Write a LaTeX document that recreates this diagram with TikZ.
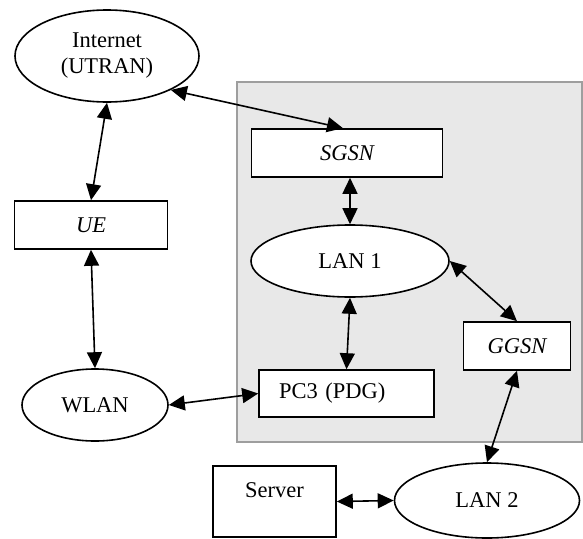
\documentclass[tikz,border=0pt]{standalone}
\usepackage{fontspec}
\setmainfont{Liberation Serif}
\usetikzlibrary{shapes.geometric,arrows.meta}
\tikzset{
  base/.style={draw, line width=1.6pt, fill=white, inner sep=0pt, font=\fontsize{22.5}{26}\selectfont},
  boxnode/.style={base, rectangle},
  ellnode/.style={base, ellipse},
  link/.style={line width=1.6pt, {Triangle[length=16pt,width=15pt]}-{Triangle[length=16pt,width=15pt]}},
  zone/.style={fill=black!9, draw=black!38, line width=1.4pt}
}
\begin{document}
\begin{tikzpicture}[x=1pt,y=-1pt]
\useasboundingbox (0,0) rectangle (583,538);
% shaded core network area
\draw[zone] (237,82) rectangle (582,442);

% nodes
\node[ellnode, minimum width=184, minimum height=92, align=center] (inet) at (107,56) {Internet\\(UTRAN)};
\node[boxnode, minimum width=153, minimum height=48] (ue) at (91,225) {\itshape UE};
\node[ellnode, minimum width=146, minimum height=72] (wlan) at (95,405) {WLAN};
\node[boxnode, minimum width=191, minimum height=48] (sgsn) at (347,153) {\itshape SGSN};
\node[ellnode, minimum width=198, minimum height=72] (lan1) at (350,261) {LAN 1};
\node[boxnode, minimum width=107, minimum height=48] (ggsn) at (517,346) {\itshape GGSN};
\node[boxnode, minimum height=47, text width=135pt, inner xsep=20pt, align=left] (pc3) at (346.5,393.5) {PC3 (PDG)};
\node[boxnode, minimum width=123, minimum height=71, align=center] (server) at (274.5,501.5) {Server\\[-4pt]\mbox{}};
\node[ellnode, minimum width=185, minimum height=75] (lan2) at (487,500.5) {LAN 2};

% connections
\draw[link] (inet.-28) -- ([xshift=-4pt]sgsn.north);
\draw[link] (inet.south) -- (ue.north);
\draw[link] (ue.south) -- (wlan.north);
\draw[link] (sgsn.south -| lan1.north) -- (lan1.north);
\draw[link] (lan1.south) -- (pc3.north);
\draw[link] (lan1.east) -- (ggsn.north);
\draw[link] (wlan.east) -- (pc3.west);
\draw[link] (ggsn.south) -- (lan2.north);
\draw[link] (server.east) -- (lan2.west);
\end{tikzpicture}
\end{document}
